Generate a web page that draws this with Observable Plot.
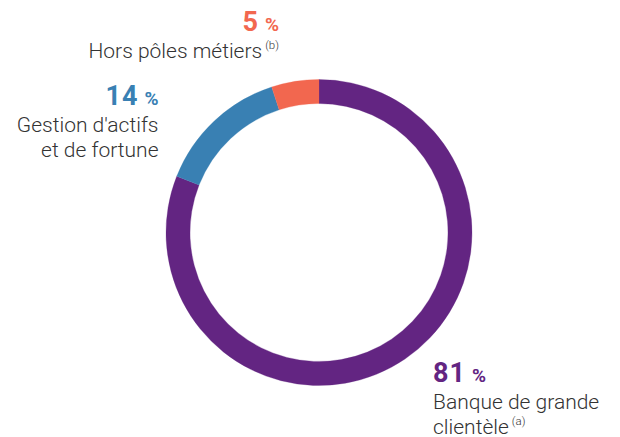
<!DOCTYPE html>
<html>
<head>
<meta charset="utf-8">
<script src="https://cdn.jsdelivr.net/npm/d3@7"></script>
<script src="https://cdn.jsdelivr.net/npm/@observablehq/plot@0.6"></script>
<style>
  html, body { margin: 0; padding: 0; background: #fff; }
  #chart svg { display: block; font-family: Roboto, "Noto Sans", sans-serif; }
</style>
</head>
<body>
<div id="chart"></div>
<script>
// ---- data ----
const segments = ["Banque de grande clientèle", "Gestion d'actifs et de fortune", "Hors pôles métiers"];
const shares = [81, 14, 5];
const labelLines = [["Banque de grande", "clientèle"], ["Gestion d'actifs", "et de fortune"], ["Hors pôles métiers"]];
const notes = ["(a)", "", "(b)"];
const colors = ["#632582", "#3980b3", "#f2674f"];

// ---- layout (styles / positions, not data) ----
const W = 620, H = 437;
const center = {x: 319, y: 232.5};
const outerR = 153, innerR = 129;
const labelLayout = [
  {x: 433, y: 382, anchor: "start"},
  {x: 158.5, y: 105, anchor: "end"},
  {x: 279, y: 31, anchor: "end"}
];
const lineGap = 25;
const firstLineGap = 26.5;
const textColor = "#333333";

const rows = segments.map((s, i) => ({segment: s, share: shares[i], lines: labelLines[i], note: notes[i], color: colors[i]}));
const pie = d3.pie().sort(null).value(d => d.share).startAngle(0).endAngle(2 * Math.PI);
const arcs = pie(rows);
const arcGen = d3.arc().innerRadius(innerR).outerRadius(outerR);

function donutMark() {
  const g = d3.create("svg:g").attr("transform", `translate(${center.x},${center.y})`);
  g.selectAll("path").data(arcs).join("path")
    .attr("d", arcGen)
    .attr("fill", d => d.data.color)
    .attr("stroke", d => d.data.color)
    .attr("stroke-width", 0.3);
  return g.node();
}

function labelsMark() {
  const g = d3.create("svg:g");
  rows.forEach((r, i) => {
    const L = labelLayout[i];
    const t = g.append("text")
      .attr("x", L.x).attr("y", L.y)
      .attr("text-anchor", L.anchor)
      .attr("fill", r.color)
      .attr("font-weight", 700);
    t.append("tspan").attr("font-size", 27).attr("letter-spacing", 1).text(r.share);
    t.append("tspan").attr("font-size", 19).attr("dx", 6).text("%");
    r.lines.forEach((line, j) => {
      const y = L.y + firstLineGap + j * lineGap;
      const tl = g.append("text")
        .attr("x", L.x).attr("y", y)
        .attr("text-anchor", L.anchor)
        .attr("fill", textColor)
        .attr("font-size", 21)
        .attr("font-weight", 300);
      tl.append("tspan").text(line);
      if (j === r.lines.length - 1 && r.note) {
        tl.append("tspan").attr("font-size", 11.5).attr("dx", 3).attr("dy", -9).text(r.note);
      }
    });
  });
  return g.node();
}

const chart = Plot.plot({
  width: W,
  height: H,
  margin: 0,
  style: {background: "#fff", fontFamily: "Roboto, sans-serif"},
  marks: [
    () => donutMark(),
    () => labelsMark()
  ]
});
document.getElementById("chart").appendChild(chart);
</script>
</body>
</html>
